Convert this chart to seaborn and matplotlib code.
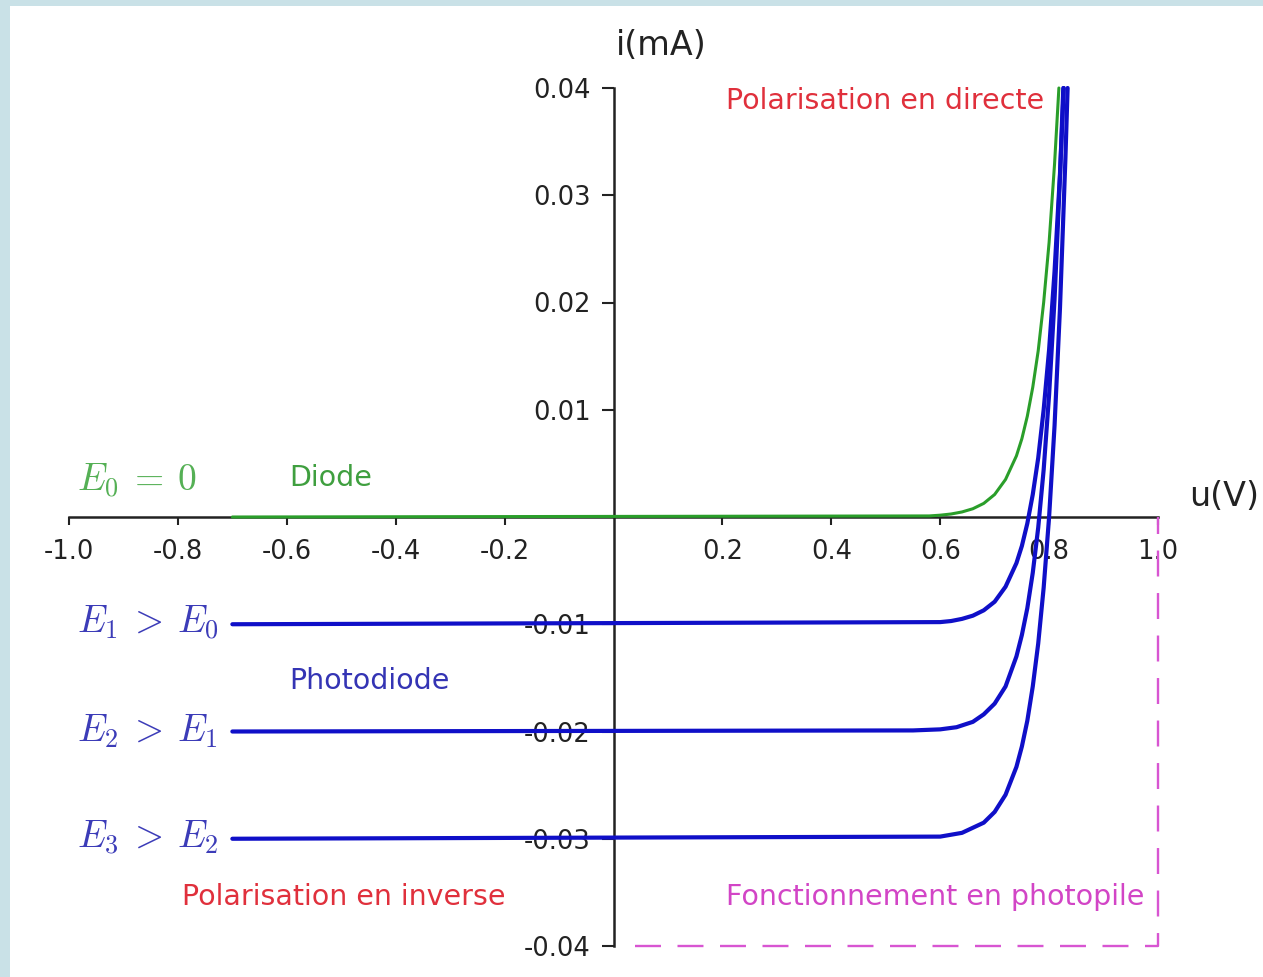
import numpy as np
import pandas as pd
import matplotlib
matplotlib.use("Agg")
import matplotlib.pyplot as plt
from matplotlib.patches import Rectangle
import seaborn as sns

# ---- data ----
u_E0 = [-0.70, 0.58, 0.60, 0.62, 0.64, 0.66, 0.68, 0.70, 0.72, 0.74, 0.75, 0.76,
        0.77, 0.78, 0.79, 0.80, 0.81, 0.818]
i_E0 = [0.0, 0.0001, 0.00017, 0.00028, 0.00047, 0.00077, 0.00127, 0.0021, 0.0035, 0.0057,
        0.0073, 0.0094, 0.0121, 0.0155, 0.0200, 0.0256, 0.0329, 0.0400]

u_E1 = [-0.70, 0.60, 0.62, 0.64, 0.66, 0.68, 0.70, 0.72, 0.74, 0.75, 0.76, 0.77,
        0.78, 0.79, 0.80, 0.81, 0.82, 0.827]
i_E1 = [-0.0100, -0.0098, -0.0097, -0.0095, -0.0092, -0.0087, -0.0079, -0.0065, -0.0043,
        -0.0027, -0.0006, 0.0021, 0.0055, 0.0100, 0.0156, 0.0229, 0.0320, 0.0400]

u_E2 = [-0.70, 0.55, 0.60, 0.63, 0.66, 0.68, 0.70, 0.72, 0.74, 0.75, 0.76, 0.77,
        0.78, 0.79, 0.80, 0.81, 0.82, 0.826]
i_E2 = [-0.0200, -0.0199, -0.0198, -0.0196, -0.0191, -0.0184, -0.0174, -0.0158, -0.0130,
        -0.0110, -0.0085, -0.0052, -0.0010, 0.0044, 0.0114, 0.0203, 0.0317, 0.0400]

u_E3 = [-0.70, 0.60, 0.64, 0.68, 0.70, 0.72, 0.74, 0.75, 0.76, 0.77, 0.78, 0.79,
        0.80, 0.81, 0.82, 0.83, 0.834]
i_E3 = [-0.0300, -0.0298, -0.02945, -0.0285, -0.0275, -0.0259, -0.0233, -0.0214, -0.0190,
        -0.0158, -0.0118, -0.0066, 0.0000, 0.0085, 0.0195, 0.0335, 0.0400]

box_u = [0.04, 1.0, 1.0]
box_i = [-0.04, -0.04, 0.0]

x_ticks = [-1.0, -0.8, -0.6, -0.4, -0.2, 0.2, 0.4, 0.6, 0.8, 1.0]
x_ticklabels = ["-1.0", "-0.8", "-0.6", "-0.4", "-0.2", "0.2", "0.4", "0.6", "0.8", "1.0"]
y_ticks = [-0.04, -0.03, -0.02, -0.01, 0.01, 0.02, 0.03, 0.04]
y_ticklabels = ["-0.04", "-0.03", "-0.02", "-0.01", "0.01", "0.02", "0.03", "0.04"]

# ---- styling ----
sns.set_theme(style="white")
plt.rcParams["font.family"] = ["DejaVu Sans"]
plt.rcParams["mathtext.fontset"] = "cm"

W, H = 1263, 977
fig = plt.figure(figsize=(W / 100, H / 100), dpi=100)
fig.patch.set_facecolor("#c9e1e7")
fig.add_artist(Rectangle((10 / W, 0), 1, (H - 6) / H, transform=fig.transFigure,
                         facecolor="white", edgecolor="none", zorder=0))

ax = fig.add_axes([69 / W, 31 / H, 1089 / W, 858 / H])
ax.patch.set_alpha(0)

green = "#2a9e2a"
blue = "#0f0fc8"

sns.lineplot(x=u_E0, y=i_E0, ax=ax, color=green, lw=2.2, sort=False, estimator=None,
             zorder=4, clip_on=False)
for uu, ii in [(u_E1, i_E1), (u_E2, i_E2), (u_E3, i_E3)]:
    sns.lineplot(x=uu, y=ii, ax=ax, color=blue, lw=3.0, sort=False, estimator=None,
                 zorder=5, clip_on=False)
sns.lineplot(x=box_u, y=box_i, ax=ax, color="#d855d2", lw=1.7, sort=False, estimator=None,
             dashes=False, linestyle=(0, (11, 7)), zorder=3, clip_on=False)

ax.set_xlim(-1.0, 1.0)
ax.set_ylim(-0.04, 0.04)
for s in ["top", "right"]:
    ax.spines[s].set_visible(False)
ax.spines["left"].set_position(("data", 0))
ax.spines["bottom"].set_position(("data", 0))
for s in ["left", "bottom"]:
    ax.spines[s].set_color("#222222")
    ax.spines[s].set_linewidth(1.8)
    ax.spines[s].set_zorder(2)

ax.set_xticks(x_ticks)
ax.set_xticklabels(x_ticklabels)
ax.set_yticks(y_ticks)
ax.set_yticklabels(y_ticklabels)
ax.tick_params(axis="both", bottom=True, left=True, direction="out", width=1.5,
               color="#222222", labelsize=18.5, labelcolor="#222222")
ax.tick_params(axis="x", length=6, pad=10)
ax.tick_params(axis="y", length=8.5, pad=8)
ax.set_xlabel("")
ax.set_ylabel("")
ax.grid(False)

# axis titles
ax.text(0.088, 0.0440, "i(mA)", fontsize=24, color="#222222", ha="center", va="center")
ax.text(1.058, 0.0019, "u(V)", fontsize=24, color="#222222", ha="left", va="center")

# annotations
red = "#e0303c"
fs = 20.5
ax.text(0.2075, 0.0388, "Polarisation en directe", fontsize=fs, color=red, ha="left", va="center")
ax.text(-0.595, 0.00364, "Diode", fontsize=fs, color="#3f9f3f", ha="left", va="center")
ax.text(-0.986, 0.0034, r"$E_0 \:=\: 0$", fontsize=27, color="#55b055", ha="left", va="center")
tb = "#3c3cb8"
ax.text(-0.986, -0.0099, r"$E_1 \:>\: E_0$", fontsize=27, color=tb, ha="left", va="center")
ax.text(-0.595, -0.0153, "Photodiode", fontsize=fs, color="#3434b4", ha="left", va="center")
ax.text(-0.986, -0.0200, r"$E_2 \:>\: E_1$", fontsize=27, color=tb, ha="left", va="center")
ax.text(-0.986, -0.0299, r"$E_3 \:>\: E_2$", fontsize=27, color=tb, ha="left", va="center")
ax.text(-0.7916, -0.0354, "Polarisation en inverse", fontsize=fs, color=red, ha="left", va="center")
ax.text(0.2075, -0.0354, "Fonctionnement en photopile", fontsize=fs, color="#d245c6",
        ha="left", va="center")

fig.savefig("out.png", dpi=100, facecolor=fig.get_facecolor())
